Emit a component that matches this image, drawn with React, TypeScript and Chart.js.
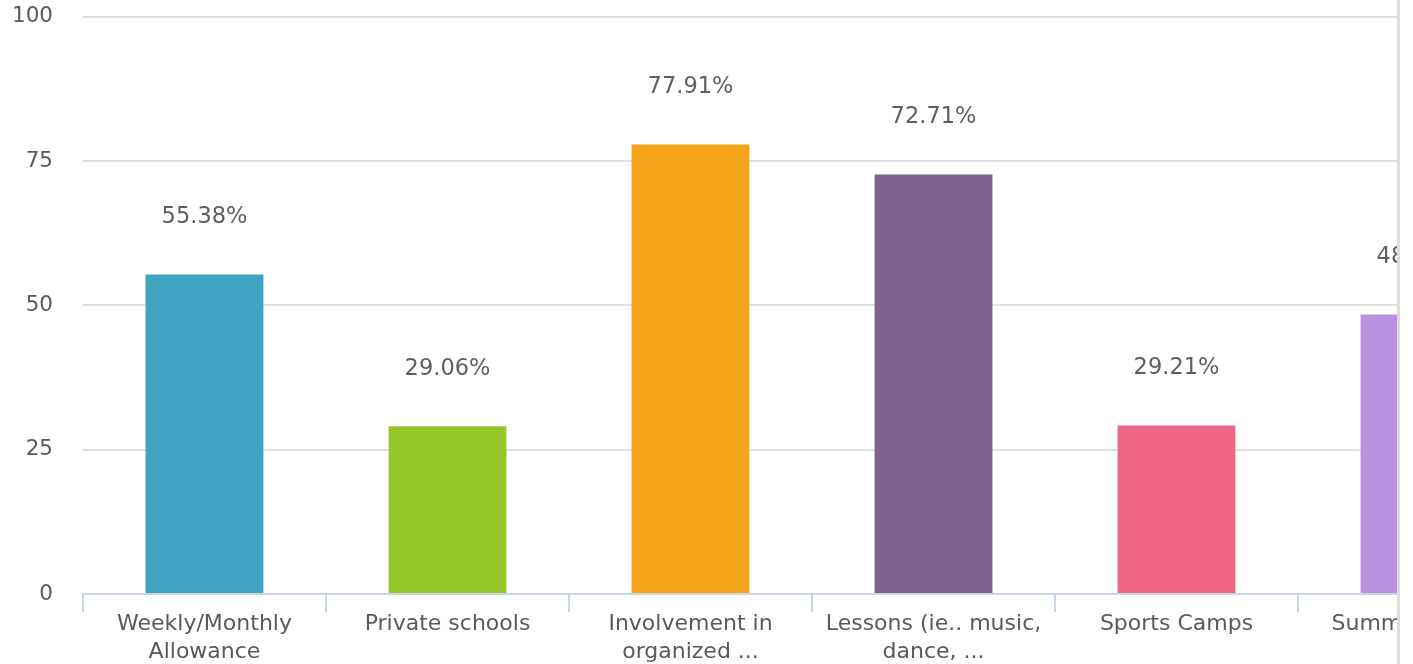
import React, { useEffect, useRef } from "react";
import { Chart, registerables } from "chart.js";

Chart.register(...registerables);

const categories: (string | string[])[] = [
  ["Weekly/Monthly", "Allowance"],
  "Private schools",
  ["Involvement in", "organized ..."],
  ["Lessons (ie.. music,", "dance, ..."],
  "Sports Camps",
  "Summer Camps",
];
const values: number[] = [55.38, 29.06, 77.91, 72.71, 29.21, 48.43];
const barColors: string[] = ["#40a3c2", "#96c72a", "#f5a41b", "#7b6091", "#f06486", "#bc91e0"];
const yTicks: number[] = [0, 25, 50, 75, 100];

const FONT = "'DejaVu Sans', Verdana, sans-serif";
const CANVAS_W = 1560;
const SHIFT = 26;
const CANVAS_H = 672 + SHIFT;
const AXIS_Y = 594 + SHIFT;

const valueLabels = {
  id: "valueLabels",
  afterDatasetsDraw(chart: any) {
    const ctx = chart.ctx;
    const meta = chart.getDatasetMeta(0);
    ctx.save();
    ctx.font = `22.5px ${FONT}`;
    ctx.fillStyle = "#5f5f5f";
    ctx.textAlign = "center";
    ctx.textBaseline = "middle";
    meta.data.forEach((bar: any, i: number) => {
      ctx.fillText(`${values[i].toFixed(2)}%`, bar.x, bar.y - 57);
    });
    ctx.restore();
  },
};

export default function App() {
  const ref = useRef<HTMLCanvasElement | null>(null);
  useEffect(() => {
    if (!ref.current) return;
    const chart = new Chart(ref.current, {
      type: "bar",
      data: {
        labels: categories,
        datasets: [
          {
            data: values,
            backgroundColor: barColors,
            borderWidth: 0,
            categoryPercentage: 1,
            barPercentage: 0.485,
          },
        ],
      },
      options: {
        responsive: false,
        animation: false,
        layout: { padding: { left: 0, top: 0, right: 19, bottom: 0 } },
        plugins: { legend: { display: false }, tooltip: { enabled: false } },
        scales: {
          y: {
            min: 0,
            max: 100,
            afterBuildTicks: (axis: any) => {
              axis.ticks = yTicks.map((v) => ({ value: v }));
            },
            afterFit: (axis: any) => {
              axis.width = 83;
            },
            border: { display: false },
            grid: { color: "#e0e0e0", lineWidth: 2, drawTicks: false },
            ticks: {
              padding: 30,
              color: "#5a5a5a",
              font: { family: FONT, size: 21.5 },
            },
          },
          x: {
            afterFit: (axis: any) => {
              axis.height = CANVAS_H - AXIS_Y;
            },
            border: { display: true, color: "#c9d5e4", width: 2 },
            grid: {
              offset: true,
              drawOnChartArea: false,
              drawTicks: true,
              tickLength: 18,
              color: "#c9d5e4",
              lineWidth: 2,
            },
            ticks: {
              padding: -2,
              color: "#5a5a5a",
              maxRotation: 0,
              autoSkip: false,
              font: { family: FONT, size: 22, lineHeight: 1.28 },
            },
          },
        },
      },
      plugins: [valueLabels],
    });
    return () => chart.destroy();
  }, []);
  return (
    <div
      style={{
        position: "absolute",
        left: 0,
        top: 0,
        width: 1397,
        height: 664,
        overflow: "hidden",
        borderRight: "3px solid #dddddd",
        background: "#ffffff",
      }}
    >
      <canvas
        ref={ref}
        width={CANVAS_W}
        height={CANVAS_H}
        style={{ display: "block", marginTop: -SHIFT }}
      />
    </div>
  );
}
